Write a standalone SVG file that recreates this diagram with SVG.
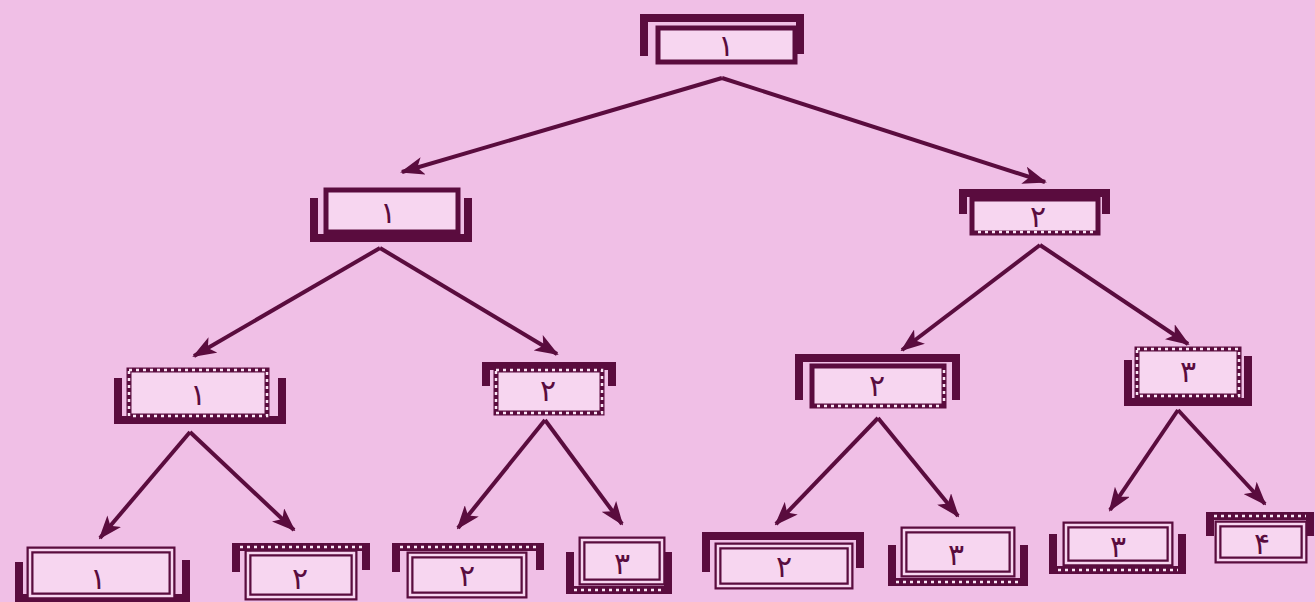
<svg xmlns="http://www.w3.org/2000/svg" width="1315" height="602" viewBox="0 0 1315 602">
<defs>
<style>
.bg{fill:#f0bfe6}
.frame{fill:none;stroke:#5a0c3e;stroke-width:8;stroke-linejoin:miter}
.box{fill:#f7d6f0;stroke:#5a0c3e;stroke-width:5}
.dbl{fill:#f7d6f0;stroke:#5a0c3e;stroke-width:7}
.dblin{fill:none;stroke:#f7d6f0;stroke-width:2.5}
.dots{fill:none;stroke:#fbe6f6;stroke-width:2.5;stroke-dasharray:3 4}
.edge{fill:none;stroke:#5a0c3e;stroke-width:4}
.lbl{font-family:"DejaVu Sans","Noto Sans",sans-serif;font-size:30px;fill:#5a0c3e;text-anchor:middle;dominant-baseline:central}
</style>
<marker id="ah" viewBox="0 0 24 18" refX="22" refY="9" markerWidth="24" markerHeight="18" markerUnits="userSpaceOnUse" orient="auto">
<path d="M0,0 L24,9 L0,18 L6,9 Z" fill="#5a0c3e"/>
</marker>
</defs>
<rect class="bg" x="0" y="0" width="1315" height="602"/>

<g id="connectors">
<line class="edge" x1="722" y1="78" x2="402" y2="172" marker-end="url(#ah)"/>
<line class="edge" x1="722" y1="78" x2="1045" y2="182" marker-end="url(#ah)"/>
<line class="edge" x1="380" y1="248" x2="194" y2="356" marker-end="url(#ah)"/>
<line class="edge" x1="380" y1="248" x2="557" y2="354" marker-end="url(#ah)"/>
<line class="edge" x1="1040" y1="245" x2="902" y2="350" marker-end="url(#ah)"/>
<line class="edge" x1="1040" y1="245" x2="1188" y2="344" marker-end="url(#ah)"/>
<line class="edge" x1="190" y1="432" x2="100" y2="538" marker-end="url(#ah)"/>
<line class="edge" x1="190" y1="432" x2="294" y2="530" marker-end="url(#ah)"/>
<line class="edge" x1="545" y1="420" x2="458" y2="528" marker-end="url(#ah)"/>
<line class="edge" x1="545" y1="420" x2="622" y2="524" marker-end="url(#ah)"/>
<line class="edge" x1="878" y1="418" x2="776" y2="524" marker-end="url(#ah)"/>
<line class="edge" x1="878" y1="418" x2="958" y2="516" marker-end="url(#ah)"/>
<line class="edge" x1="1178" y1="410" x2="1110" y2="510" marker-end="url(#ah)"/>
<line class="edge" x1="1178" y1="410" x2="1265" y2="504" marker-end="url(#ah)"/>
</g>

<g id="n-root">
<path class="frame" d="M644,56 V18 H800 V54"/>
<rect class="box" x="658" y="28" width="137" height="34"/>
<text class="lbl" x="726" y="45">۱</text>
</g>

<g id="n-l1a">
<path class="frame" d="M314,198 V238 H468 V198"/>
<rect class="box" x="326" y="190" width="132" height="42"/>
<text class="lbl" x="388" y="212">۱</text>
</g>

<g id="n-l1b">
<path class="frame" d="M963,214 V193 H1106 V214"/>
<rect class="box" x="972" y="199" width="126" height="34"/>
<line class="dots" x1="978" y1="232" x2="1094" y2="232"/>
<text class="lbl" x="1038" y="216">۲</text>
</g>

<g id="n-l2a">
<path class="frame" d="M118,378 V420 H282 V378"/>
<rect class="box" x="129" y="370" width="138" height="46" stroke-width="7"/>
<rect class="dots" x="129" y="370" width="138" height="46"/>
<text class="lbl" x="198" y="394">۱</text>
</g>

<g id="n-l2b">
<path class="frame" d="M486,386 V366 H612 V386"/>
<rect class="box" x="496" y="370" width="106" height="43" stroke-width="7"/>
<rect class="dots" x="496" y="370" width="106" height="43"/>
<text class="lbl" x="548" y="390">۲</text>
</g>

<g id="n-l2c">
<path class="frame" d="M799,400 V358 H956 V400"/>
<rect class="box" x="812" y="366" width="132" height="40" stroke-width="6"/>
<line class="dots" x1="817" y1="406" x2="940" y2="406"/>
<line class="dots" x1="944" y1="370" x2="944" y2="402"/>
<text class="lbl" x="877" y="385">۲</text>
</g>

<g id="n-l2d">
<path class="frame" d="M1128,360 V402 H1248 V356"/>
<rect class="box" x="1137" y="349" width="102" height="47" stroke-width="7"/>
<rect class="dots" x="1137" y="349" width="102" height="47"/>
<text class="lbl" x="1188" y="371">۳</text>
</g>

<g id="n-l3a">
<path class="frame" d="M19,562 V598 H186 V560"/>
<rect class="dbl" x="30" y="550" width="142" height="46"/>
<rect class="dblin" x="30" y="550" width="142" height="46"/>
<text class="lbl" x="98" y="578">۱</text>
</g>

<g id="n-l3b">
<path class="frame" d="M236,572 V547 H366 V570"/>
<line class="dots" x1="240" y1="547" x2="362" y2="547"/>
<rect class="dbl" x="248" y="553" width="106" height="44"/>
<rect class="dblin" x="248" y="553" width="106" height="44"/>
<text class="lbl" x="300" y="578">۲</text>
</g>

<g id="n-l3c">
<path class="frame" d="M396,572 V547 H540 V570"/>
<line class="dots" x1="400" y1="547" x2="536" y2="547"/>
<rect class="dbl" x="410" y="555" width="114" height="40"/>
<rect class="dblin" x="410" y="555" width="114" height="40"/>
<text class="lbl" x="467" y="575">۲</text>
</g>

<g id="n-l3d">
<path class="frame" d="M570,552 V590 H668 V552"/>
<line class="dots" x1="574" y1="590" x2="664" y2="590"/>
<rect class="dbl" x="582" y="540" width="80" height="42"/>
<rect class="dblin" x="582" y="540" width="80" height="42"/>
<text class="lbl" x="622" y="563">۳</text>
</g>

<g id="n-l3e">
<path class="frame" d="M706,572 V536 H860 V568" stroke-width="11"/>
<rect class="dbl" x="718" y="546" width="132" height="40"/>
<rect class="dblin" x="718" y="546" width="132" height="40"/>
<text class="lbl" x="784" y="566">۲</text>
</g>

<g id="n-l3f">
<path class="frame" d="M892,545 V582 H1024 V545"/>
<line class="dots" x1="896" y1="582" x2="1020" y2="582"/>
<rect class="dbl" x="904" y="530" width="108" height="44"/>
<rect class="dblin" x="904" y="530" width="108" height="44"/>
<text class="lbl" x="956" y="554">۳</text>
</g>

<g id="n-l3g">
<path class="frame" d="M1053,534 V570 H1182 V534"/>
<line class="dots" x1="1058" y1="570" x2="1178" y2="570"/>
<rect class="dbl" x="1066" y="525" width="104" height="38"/>
<rect class="dblin" x="1066" y="525" width="104" height="38"/>
<text class="lbl" x="1118" y="546">۳</text>
</g>

<g id="n-l3h">
<path class="frame" d="M1210,536 V516 H1310 V536"/>
<line class="dots" x1="1214" y1="516" x2="1306" y2="516"/>
<rect class="dbl" x="1218" y="524" width="86" height="36"/>
<rect class="dblin" x="1218" y="524" width="86" height="36"/>
<text class="lbl" x="1262" y="543">۴</text>
</g>
</svg>
